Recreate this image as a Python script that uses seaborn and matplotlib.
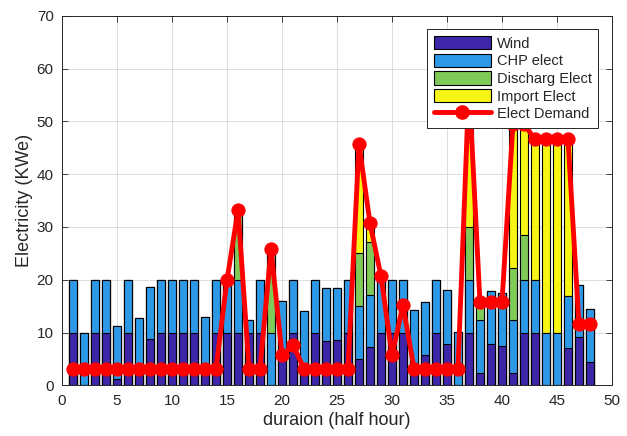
import matplotlib
matplotlib.use("Agg")
import matplotlib.pyplot as plt
import seaborn as sns
import numpy as np
from matplotlib.patches import Patch
from matplotlib.lines import Line2D

# ---------------- data ----------------
half_hour = list(range(1, 49))
wind = [10, 0, 10, 10, 1.2, 10, 2.7, 8.7, 10, 10, 10, 10, 3, 10, 10, 10,
        10, 10, 0, 5.8, 10, 4, 10, 8.4, 8.6, 10, 5, 7.2, 10, 10, 10, 4.3,
        5.7, 10, 7.9, 0, 10, 2.3, 7.9, 7.5, 2.3, 10, 10, 0, 0, 7, 9.1, 4.4]
chp_elect = [10, 10, 10, 10, 10, 10, 10, 9.9, 10, 10, 10, 10, 10, 10, 10, 10,
             2.3, 10, 10, 10.1, 10, 10, 10, 10, 9.9, 10, 10, 10, 10, 10, 10, 10,
             10, 10, 10.1, 10.1, 10, 10, 9.9, 10, 10, 10, 10, 10, 10, 10, 9.9, 10]
discharge_elect = [0, 0, 0, 0, 0, 0, 0, 0, 0, 0, 0, 0, 0, 0, 0, 12.2,
                   0, 0, 14.8, 0, 0, 0, 0, 0, 0, 0, 10, 10, 0, 0, 0, 0,
                   0, 0, 0, 0, 10, 3.4, 0, 0, 10, 8.5, 0, 0, 0, 0, 0, 0]
import_elect = [0, 0, 0, 0, 0, 0, 0, 0, 0, 0, 0, 0, 0, 0, 0, 1.0,
                0, 0, 1.0, 0, 0, 0, 0, 0, 0, 0, 20.7, 3.5, 0.7, 0, 0, 0,
                0, 0, 0, 0, 27, 0, 0, 0, 27.2, 21, 26.6, 36.6, 36.6, 29.6, 0, 0]
elect_demand = [3.2, 3.2, 3.2, 3.2, 3.2, 3.2, 3.2, 3.2, 3.2, 3.2, 3.2, 3.2, 3.2, 3.2, 20, 33.2,
                3.2, 3.2, 25.8, 5.8, 7.6, 3.2, 3.2, 3.2, 3.2, 3.2, 45.7, 30.7, 20.7, 5.7, 15.2, 3.2,
                3.2, 3.2, 3.2, 3.2, 57, 15.7, 15.7, 15.7, 49.5, 49.5, 46.6, 46.6, 46.6, 46.6, 11.6, 11.6]

series_names = ["Wind", "CHP elect", "Discharg Elect", "Import Elect"]
series_colors = ["#3d26a8", "#2d99e6", "#7fca58", "#f7f516"]
demand_label = "Elect Demand"

# ---------------- style ----------------
sns.set_style("ticks")
plt.rcParams["font.family"] = ["Liberation Sans", "DejaVu Sans"]

fig = plt.figure(figsize=(6.27, 4.36), dpi=100)
ax = fig.add_axes([0.099, 0.116, 0.877, 0.848])

layers = [wind, chp_elect, discharge_elect, import_elect]
cum = np.cumsum(np.array(layers, dtype=float), axis=0)

# draw cumulative totals back to front -> stacked look
for i in range(3, -1, -1):
    sns.barplot(x=half_hour, y=cum[i], native_scale=True, color=series_colors[i],
                saturation=1, width=0.8, edgecolor="black", linewidth=0.8,
                errorbar=None, ax=ax, zorder=2)

sns.lineplot(x=half_hour, y=elect_demand, color="red", linewidth=3.5,
             marker="o", markersize=9.5, markerfacecolor="red",
             markeredgecolor="red", ax=ax, zorder=4)

ax.set_xlim(0, 50)
ax.set_ylim(0, 70)
ax.set_xticks(range(0, 51, 5))
ax.set_yticks(range(0, 71, 10))
ax.grid(True, color="#dcdcdc", linewidth=0.7)
ax.set_axisbelow(True)
ax.tick_params(direction="in", top=True, right=True, length=4, width=0.6,
               labelsize=11, colors="#262626", pad=6)
for s in ax.spines.values():
    s.set_visible(True)
    s.set_color("#262626")
    s.set_linewidth(0.7)

ax.set_xlabel("duraion (half hour)", fontsize=13, color="#262626", labelpad=3)
ax.set_ylabel("Electricity (KWe)", fontsize=13, color="#262626", labelpad=3)

handles = [Patch(facecolor=c, edgecolor="black", linewidth=0.8, label=n)
           for n, c in zip(series_names, series_colors)]
handles.append(Line2D([], [], color="red", linewidth=3.5, marker="o", markersize=9.5,
                      markerfacecolor="red", markeredgecolor="red", label=demand_label))
leg = ax.legend(handles=handles, loc="upper right", bbox_to_anchor=(0.975, 0.963),
                fancybox=False, framealpha=1, edgecolor="#262626", fontsize=10.5,
                handlelength=3.9, handleheight=1.05, labelspacing=0.2,
                borderpad=0.45, handletextpad=0.4, borderaxespad=0)
leg.get_frame().set_linewidth(0.7)
leg.set_zorder(10)

fig.savefig("out.png", dpi=100)
